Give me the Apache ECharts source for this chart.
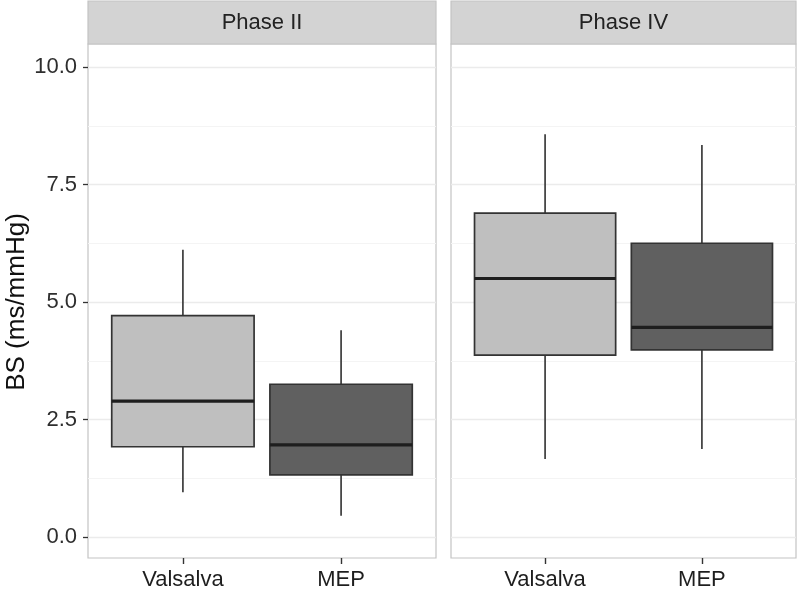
<!DOCTYPE html>
<html>
<head>
<meta charset="utf-8">
<script src="https://cdn.jsdelivr.net/npm/echarts@6/dist/echarts.min.js"></script>
<style>html,body{margin:0;padding:0;background:#fff}#c{width:800px;height:591px}</style>
</head>
<body>
<div id="c"></div>
<script>
// ---- data ----
var panels = ['Phase II', 'Phase IV'];
var categories = ['Valsalva', 'MEP'];
var categoryPos = [1, 2];
// [min, Q1, median, Q3, max]
var phase2Valsalva = [0.95, 1.92, 2.89, 4.71, 6.11];
var phase2MEP      = [0.45, 1.32, 1.96, 3.25, 4.40];
var phase4Valsalva = [1.66, 3.87, 5.50, 6.89, 8.57];
var phase4MEP      = [1.87, 3.98, 4.46, 6.25, 8.34];
var yTicks = [0, 2.5, 5, 7.5, 10];
var yTitle = 'BS (ms/mmHg)';

// ---- styles ----
var FONT = 'Liberation Sans, Arial, Helvetica, sans-serif';
var boxColors = ['#bfbfbf', '#606060'];
var panelLeft = [88, 451];
var panelWidth = [348, 345];

var chart = echarts.init(document.getElementById('c'), null, {renderer: 'canvas'});

function rows(arrs) {
  return arrs.map(function (a, i) { return [categoryPos[i]].concat(a); });
}
var panelData = [rows([phase2Valsalva, phase2MEP]), rows([phase4Valsalva, phase4MEP])];

function renderBox(params, api) {
  var x = api.value(0);
  var pMin = api.coord([x, api.value(1)]);
  var pQ1 = api.coord([x, api.value(2)]);
  var pMed = api.coord([x, api.value(3)]);
  var pQ3 = api.coord([x, api.value(4)]);
  var pMax = api.coord([x, api.value(5)]);
  var hw = api.size([0.9, 0])[0] / 2;
  var edge = '#333333';
  return {
    type: 'group',
    children: [
      {type: 'line', shape: {x1: pMin[0], y1: pMin[1], x2: pQ1[0], y2: pQ1[1]}, style: {stroke: '#3c3c3c', lineWidth: 1.7}},
      {type: 'line', shape: {x1: pQ3[0], y1: pQ3[1], x2: pMax[0], y2: pMax[1]}, style: {stroke: '#3c3c3c', lineWidth: 1.7}},
      {type: 'rect', shape: {x: pQ3[0] - hw, y: pQ3[1], width: 2 * hw, height: pQ1[1] - pQ3[1]},
        style: {fill: boxColors[params.dataIndex], stroke: edge, lineWidth: 1.7}},
      {type: 'line', shape: {x1: pMed[0] - hw, y1: pMed[1], x2: pMed[0] + hw, y2: pMed[1]}, style: {stroke: '#1e1e1e', lineWidth: 3.2}}
    ]
  };
}

var grids = [], xAxes = [], yAxes = [], series = [], graphics = [];
panels.forEach(function (name, p) {
  // data grid (p)
  grids[p] = {left: panelLeft[p], width: panelWidth[p], top: 67, height: 470, containLabel: false};
  // frame grid
  grids[2 + p] = {left: panelLeft[p], width: panelWidth[p], top: 44, height: 515, show: true,
    borderColor: '#c4c4c4', borderWidth: 1.2, backgroundColor: 'transparent'};
  // strip grid
  grids[4 + p] = {left: panelLeft[p], width: panelWidth[p], top: 1, height: 43, show: true,
    borderColor: '#c4c4c4', borderWidth: 1.2, backgroundColor: '#d3d3d3'};

  xAxes[p] = {type: 'value', gridIndex: p, min: 0.4, max: 2.6, show: false};
  yAxes[p] = {
    type: 'value', gridIndex: p, min: 0, max: 10, interval: 2.5,
    axisLine: {show: false},
    axisTick: {show: p === 0, length: 5, lineStyle: {color: '#333', width: 1.3}},
    axisLabel: {show: p === 0, margin: 11, fontSize: 22, fontFamily: FONT, color: '#2e2e2e',
      formatter: function (v) { return v.toFixed(1); }},
    splitLine: {show: true, lineStyle: {color: '#ebebeb', width: 1.3}},
    minorTick: {show: false, splitNumber: 2},
    minorSplitLine: {show: true, lineStyle: {color: '#f4f4f4', width: 1}},
    name: p === 0 ? yTitle : '', nameLocation: 'middle', nameGap: 56, nameRotate: 90,
    nameTextStyle: {fontSize: 26, fontFamily: FONT, color: '#111'}
  };
  // frame grid axes: category ticks and labels at the panel bottom
  xAxes[2 + p] = {
    type: 'value', gridIndex: 2 + p, min: 0.4, max: 2.6, position: 'bottom',
    axisLine: {show: false},
    splitLine: {show: false},
    axisTick: {show: true, inside: false, customValues: categoryPos, length: 6, lineStyle: {color: '#333', width: 1.4}},
    axisLabel: {show: true, customValues: categoryPos, margin: 11, fontSize: 22, fontFamily: FONT, color: '#1e1e1e',
      formatter: function (v) { return categories[Math.round(v) - 1] || ''; }}
  };
  yAxes[2 + p] = {type: 'value', gridIndex: 2 + p, show: false};
  xAxes[4 + p] = {type: 'value', gridIndex: 4 + p, show: false};
  yAxes[4 + p] = {type: 'value', gridIndex: 4 + p, show: false};

  series.push({
    type: 'custom', xAxisIndex: p, yAxisIndex: p, renderItem: renderBox,
    data: panelData[p], encode: {x: 0, y: [1, 2, 3, 4, 5]}, silent: true, animation: false
  });

  graphics.push({
    type: 'text', x: panelLeft[p] + panelWidth[p] / 2, y: 23,
    style: {text: name, textAlign: 'center', textVerticalAlign: 'middle', fontSize: 22, fontFamily: FONT, fill: '#222'}
  });
});

chart.setOption({
  animation: false,
  grid: grids,
  xAxis: xAxes,
  yAxis: yAxes,
  series: series,
  graphic: graphics
});
</script>
</body>
</html>
